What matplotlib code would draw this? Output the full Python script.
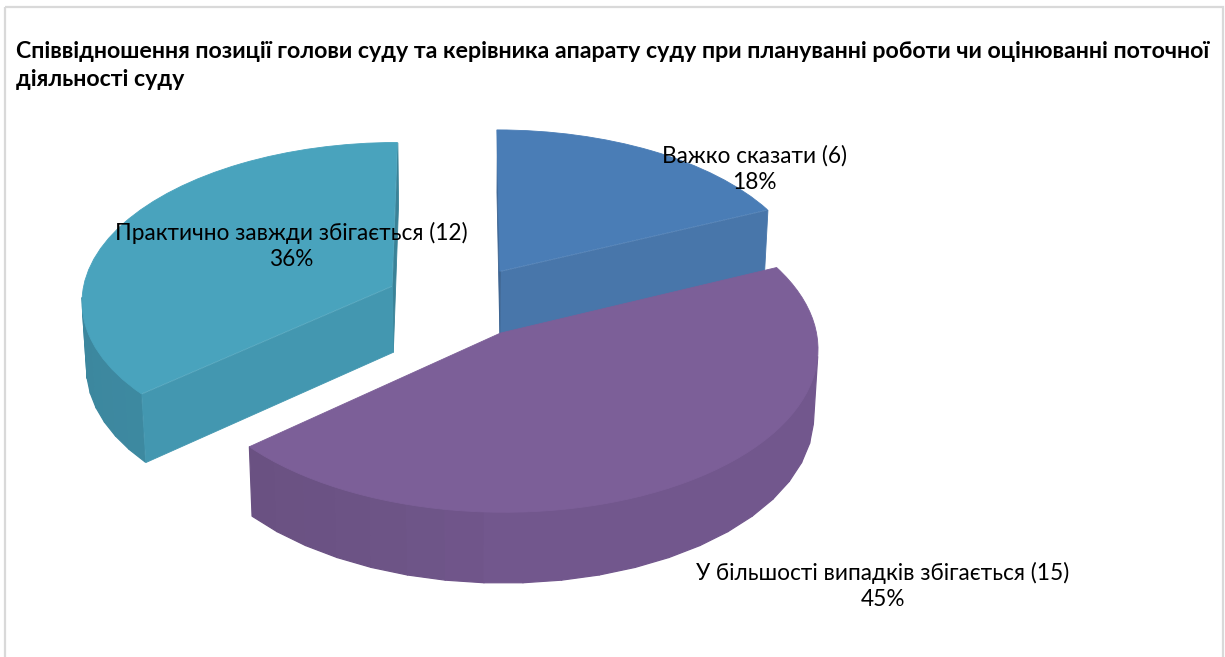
import numpy as np
import matplotlib
matplotlib.use("Agg")
import matplotlib.pyplot as plt
from matplotlib.collections import PolyCollection
from matplotlib.patches import Rectangle
from matplotlib.transforms import Transform

# ---- data ----
categories = ["Важко сказати", "У більшості випадків збігається", "Практично завжди збігається"]
values = [6, 15, 12]
title_lines = ["Співвідношення позиції голови суду та керівника апарату суду при плануванні роботи чи оцінюванні поточної",
               "діяльності суду"]

# ---- styles ----
top_colors = ["#4A7DB6", "#7C5F98", "#49A3BD"]
cut_colors = ["#4876AA", "#6F5589", "#4397B0"]
wall_near = ["#4876AA", "#72578D", "#4593AB"]
wall_far = ["#3F6A9A", "#68507F", "#3C879E"]
draw_layer = [1, 3, 2]
explode = [0.235, 0.23, 0.246]
label_pos = [(754, 169), (883, 586), (291, 246)]

plt.rcParams["font.family"] = ["Lato", "Open Sans", "DejaVu Sans"]

CX, CY, RX, RY, K, DEPTH, KZ = 461.0, 302.0, 311.0, 158.3, 0.085, 67.0, 0.012
CAM_Y = -1.0 / K


class Camera(Transform):
    input_dims = 2
    output_dims = 2

    def __init__(self, z=0.0):
        super().__init__()
        self.z = z

    def transform_non_affine(self, values):
        v = np.asarray(values, float)
        w = 1 + K * v[:, 1] + KZ * self.z
        return np.column_stack([CX + RX * v[:, 0] / w,
                                CY - RY * v[:, 1] / w + DEPTH * self.z / w])


top, bottom = Camera(0.0), Camera(1.0)


def hex2rgb(h):
    return np.array(matplotlib.colors.to_rgb(h))


def faces_camera(nx, ny, px, py):
    return nx * (0 - px) + ny * (CAM_Y - py) > 0


fig = plt.figure(figsize=(12.25, 6.57), dpi=100)
ax = fig.add_axes([0, 0, 1, 1])
wedges, _ = ax.pie(values, explode=explode, startangle=90, counterclock=False,
                   colors=top_colors, radius=1.0)
ax.set_aspect("auto")
ax.set_xlim(0, 1225)
ax.set_ylim(657, 0)
ax.axis("off")

# chart frame (open at the bottom edge of the picture)
ax.add_patch(Rectangle((5, 7), 1218, 670, fill=False, ec="#D9D9D9", lw=1.6, zorder=0))

for i, wedge in enumerate(wedges):
    layer = draw_layer[i] * 10
    cx0, cy0 = wedge.center
    r = wedge.r
    th = np.radians(np.linspace(wedge.theta1, wedge.theta2, 26))
    xs = cx0 + r * np.cos(th)
    ys = cy0 + r * np.sin(th)
    # outer wall as strips, shaded towards the left; back-facing ones are skipped
    t_top = top.transform_non_affine(np.column_stack([xs, ys]))
    t_bot = bottom.transform_non_affine(np.column_stack([xs, ys]))
    polys, cols = [], []
    c0, c1 = hex2rgb(wall_near[i]), hex2rgb(wall_far[i])
    for j in range(len(th) - 1):
        tm = 0.5 * (th[j] + th[j + 1])
        if not faces_camera(np.cos(tm), np.sin(tm), xs[j], ys[j]):
            continue
        polys.append([t_top[j], t_top[j + 1], t_bot[j + 1], t_bot[j]])
        f = np.clip(-np.cos(tm), 0, 1) ** 0.7
        cols.append(c0 * (1 - f) + c1 * f)
    if polys:
        ax.add_collection(PolyCollection(polys, facecolors=cols, edgecolors=cols, linewidths=0.9,
                                         zorder=layer))
    # the two cut faces, where the camera can see them
    apex = np.array([[cx0, cy0]])
    for k, ang in ((0, th[0] - np.pi / 2), (-1, th[-1] + np.pi / 2)):
        nx, ny = np.cos(ang), np.sin(ang)
        if not faces_camera(nx, ny, cx0, cy0):
            continue
        rim = np.array([[xs[k], ys[k]]])
        a_t, r_t = top.transform_non_affine(apex), top.transform_non_affine(rim)
        a_b, r_b = bottom.transform_non_affine(apex), bottom.transform_non_affine(rim)
        quad = np.vstack([a_t, r_t, r_b, a_b])
        col = hex2rgb(cut_colors[i]) * (1.0 if ny < -0.3 else 0.86)
        ax.add_collection(PolyCollection([quad], facecolors=[col], edgecolors=[col],
                                         linewidths=0.6, zorder=layer + 1))
    wedge.set_transform(top + ax.transData)
    wedge.set_zorder(layer + 2)
    wedge.set_edgecolor(top_colors[i])
    wedge.set_linewidth(0.6)
    wedge.set_clip_on(False)

total = sum(values)
for name, v, (x, y) in zip(categories, values, label_pos):
    ax.text(x, y, f"{name} ({v})\n{round(100 * v / total)}%", ha="center", va="center",
            fontsize=16.3, color="black", linespacing=1.3, zorder=100)

ax.text(16, 52, title_lines[0], fontsize=16.7, fontweight="bold", color="black",
        va="center", ha="left", zorder=100)
ax.text(16, 80, title_lines[1], fontsize=16.7, fontweight="bold", color="black",
        va="center", ha="left", zorder=100)

fig.savefig("out.png", dpi=100)
